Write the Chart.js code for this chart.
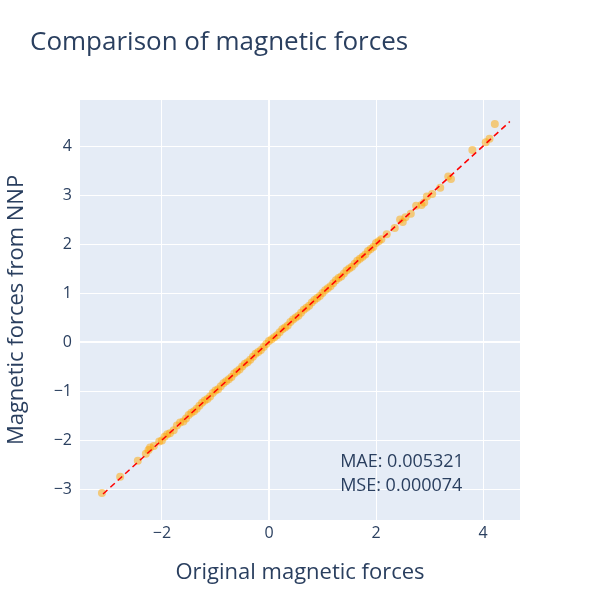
<!DOCTYPE html>
<html>
<head>
<meta charset="utf-8">
<script src="https://cdn.jsdelivr.net/npm/chart.js@4"></script>
<style>
  body { margin: 0; background: #fff; }
  #wrap { width: 600px; height: 600px; }
</style>
</head>
<body>
<div id="wrap"><canvas id="myChart" width="600" height="600"></canvas></div>
<script>
// Nilai
const originalForces = [-3.12, -2.78, -2.45, -2.3, -2.22, -2.15, -2.05, -1.95, -1.85, -1.72, -1.6, -1.5, -1.4, -1.3,
  -1.2, -1.1, -1.0, -0.9, -0.8, -0.7, -0.6, -0.5, -0.4, -0.3, -0.2, -0.1, 0.0, 0.1, 0.2, 0.3, 0.4,
  0.5, 0.6, 0.7, 0.8, 0.9, 1.0, 1.1, 1.2, 1.3, 1.4, 1.5, 1.6, 1.7, 1.8, 1.9, 2.0, 2.1, 2.2, 2.35,
  2.45, 2.55, 2.65, 2.75, 2.85, 2.95, 3.05, 3.2, 3.35, 3.4, 3.8, 4.05, 4.12, 4.22,
  -2.25, -2.0, -1.9, -1.78, -1.66, -1.55, -1.45, -1.35, -1.25, -1.15, -1.05, -0.95, -0.85, -0.75,
  -0.65, -0.55, -0.45, -0.35, -0.25, -0.15, -0.05, 0.05, 0.15, 0.25, 0.35, 0.45, 0.55, 0.65, 0.75,
  0.85, 0.95, 1.05, 1.15, 1.25, 1.35, 1.45, 1.55, 1.65, 1.75, 1.85, 1.95, 2.05, 2.5, 2.9];
const nnpForces = [-3.08, -2.75, -2.42, -2.28, -2.15, -2.12, -2.03, -1.93, -1.86, -1.7, -1.62, -1.49, -1.41, -1.3,
  -1.19, -1.11, -0.99, -0.9, -0.8, -0.71, -0.6, -0.5, -0.41, -0.3, -0.2, -0.1, 0.02, 0.1, 0.2, 0.3, 0.41,
  0.5, 0.6, 0.7, 0.81, 0.9, 1.0, 1.1, 1.2, 1.31, 1.4, 1.5, 1.6, 1.7, 1.79, 1.9, 2.02, 2.1, 2.2, 2.33,
  2.5, 2.55, 2.62, 2.78, 2.8, 2.97, 3.02, 3.15, 3.38, 3.33, 3.92, 4.08, 4.15, 4.45,
  -2.2, -2.01, -1.88, -1.8, -1.64, -1.56, -1.44, -1.36, -1.24, -1.16, -1.04, -0.96, -0.84, -0.76,
  -0.64, -0.56, -0.44, -0.36, -0.24, -0.16, -0.04, 0.06, 0.14, 0.26, 0.34, 0.46, 0.54, 0.66, 0.74,
  0.86, 0.94, 1.06, 1.14, 1.26, 1.34, 1.46, 1.54, 1.66, 1.74, 1.86, 1.94, 2.06, 2.45, 2.85];
const idealLine = [-3.1, 4.5];
const xTicks = [-2, 0, 2, 4];
const yTicks = [-3, -2, -1, 0, 1, 2, 3, 4];
const statLines = ['MAE: 0.005321', 'MSE: 0.000074'];

const TEXT = '#2a3f5f';
const minus = v => String(v).replace('-', '\u2212');

const bgPlugin = {
  id: 'bg',
  beforeDraw(c) {
    const a = c.chartArea, g = c.ctx;
    g.save();
    g.fillStyle = '#e5ecf6';
    g.fillRect(a.left, a.top, a.right - a.left, a.bottom - a.top);
    g.restore();
  },
  afterDraw(c) {
    const g = c.ctx;
    g.save();
    g.fillStyle = TEXT;
    g.font = '26px "Open Sans", sans-serif';
    g.textBaseline = 'alphabetic';
    g.fillText('Comparison of magnetic forces', 30, 50);
    g.font = '18px "Open Sans", sans-serif';
    g.textAlign = 'left';
    const xs = c.scales.x, ys = c.scales.y;
    g.fillText(statLines[0], xs.getPixelForValue(1.33), ys.getPixelForValue(-2.55));
    g.fillText(statLines[1], xs.getPixelForValue(1.33), ys.getPixelForValue(-3.03));
    g.restore();
  }
};

const ctx = document.getElementById('myChart').getContext('2d');
new Chart(ctx, {
  type: 'scatter',
  data: {
    datasets: [
      {
        data: originalForces.map((x, i) => ({ x: x, y: nnpForces[i] })),
        backgroundColor: 'rgba(255,165,0,0.5)',
        borderWidth: 0,
        pointRadius: 4,
        order: 2
      },
      {
        type: 'line',
        data: idealLine.map(v => ({ x: v, y: v })),
        borderColor: '#ff0000',
        borderWidth: 1.5,
        borderDash: [6, 4],
        pointRadius: 0,
        order: 1
      }
    ]
  },
  options: {
    responsive: false,
    animation: false,
    layout: { padding: { top: 100, right: 80, left: 0, bottom: 0 } },
    plugins: { legend: { display: false }, tooltip: { enabled: false } },
    scales: {
      x: {
        type: 'linear', min: -3.53, max: 4.69,
        afterFit: s => { s.height = 80; },
        afterBuildTicks: s => { s.ticks = xTicks.map(v => ({ value: v })); },
        ticks: { color: TEXT, font: { size: 16, family: '"Open Sans", sans-serif' }, callback: minus, padding: 4 },
        grid: { color: '#ffffff', lineWidth: c => c.tick && c.tick.value === 0 ? 2 : 1, drawTicks: false },
        border: { display: false },
        title: { display: true, text: 'Original magnetic forces', color: TEXT, font: { size: 22, family: '"Open Sans", sans-serif' }, padding: { top: 0, bottom: 14 } }
      },
      y: {
        type: 'linear', min: -3.63, max: 4.94,
        afterFit: s => { s.width = 80; },
        afterBuildTicks: s => { s.ticks = yTicks.map(v => ({ value: v })); },
        ticks: { color: TEXT, font: { size: 16, family: '"Open Sans", sans-serif' }, callback: minus, padding: 8 },
        grid: { color: '#ffffff', lineWidth: c => c.tick && c.tick.value === 0 ? 2 : 1, drawTicks: false },
        border: { display: false },
        title: { display: true, text: 'Magnetic forces from NNP', color: TEXT, font: { size: 22, family: '"Open Sans", sans-serif' }, padding: { bottom: 6 } }
      }
    }
  },
  plugins: [bgPlugin]
});
</script>
</body>
</html>
